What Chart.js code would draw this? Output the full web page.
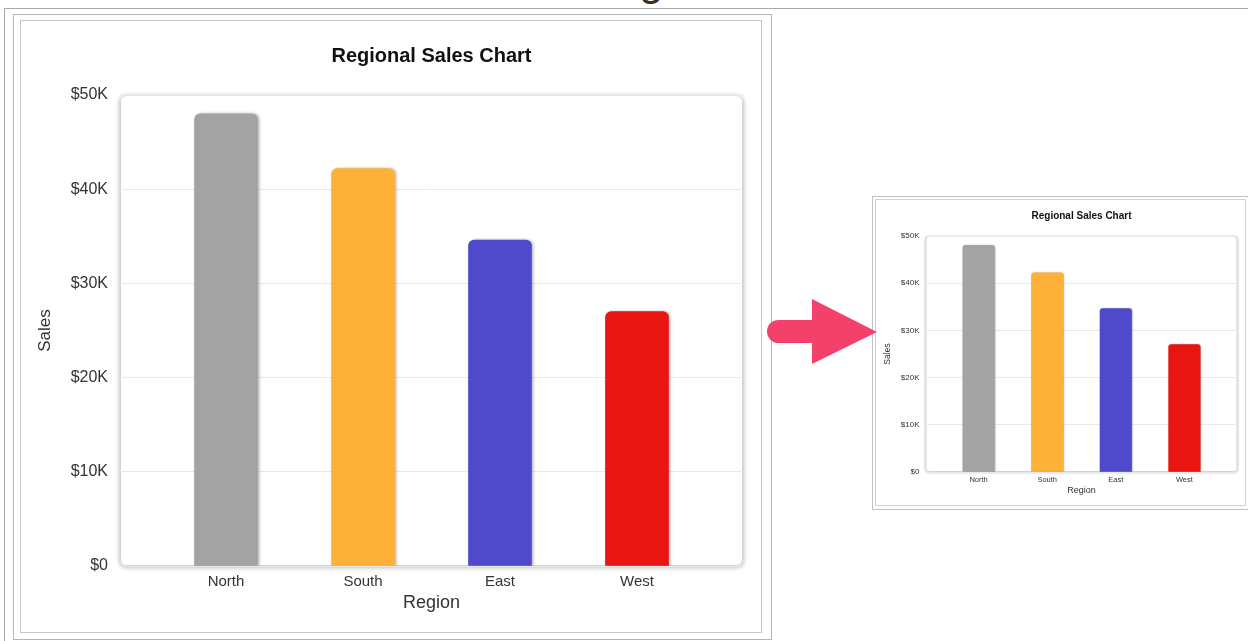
<!DOCTYPE html>
<html>
<head>
<meta charset="utf-8">
<title>Regional Sales Chart</title>
<script src="https://cdn.jsdelivr.net/npm/chart.js@4.4.1/dist/chart.umd.min.js"></script>
<style>
  html, body { margin: 0; padding: 0; background: #fff; }
  body { position: relative; width: 1248px; height: 641px; overflow: hidden;
         font-family: "Liberation Sans", Arial, sans-serif; }
  .abs { position: absolute; box-sizing: border-box; }
  #pageTop  { left: 4px; top: 8px; width: 1244px; height: 1px; background: #a9a9a9; }
  #pageLeft { left: 4px; top: 8px; width: 1px; height: 633px; background: #a9a9a9; }
  #heading  { left: 639px; top: -42px; font-size: 44px; line-height: 44px; color: #333; }
  #bigOuter { left: 13px; top: 14px; width: 759px; height: 626px; border: 1px solid #b5b5b5; }
  #bigInner { left: 20px; top: 20px; width: 742px; height: 613px; border: 1px solid #c6c6c6; }
  #bigWrap  { left: 21px; top: 21px; width: 739px; height: 611px; }
  #smallOuter { left: 872px; top: 196px; width: 380px; height: 314px; border: 1px solid #c2c2c2; }
  #smallInner { left: 875px; top: 199px; width: 371px; height: 307px; border: 1px solid #d2d2d2; }
  #smallWrap  { left: 876px; top: 199px; width: 370px; height: 306px; filter: blur(0.35px); }
  #arrow { left: 0; top: 0; width: 1248px; height: 641px; pointer-events: none; }
</style>
</head>
<body>
<div class="abs" id="pageTop"></div>
<div class="abs" id="pageLeft"></div>
<div class="abs" id="heading">g</div>

<div class="abs" id="bigOuter"></div>
<div class="abs" id="bigInner"></div>
<div class="abs" id="bigWrap"><canvas id="bigChart" width="739" height="611"></canvas></div>

<div class="abs" id="smallOuter"></div>
<div class="abs" id="smallInner"></div>
<div class="abs" id="smallWrap"><canvas id="smallChart" width="370" height="306"></canvas></div>

<svg class="abs" id="arrow" viewBox="0 0 1248 641">
  <path d="M813 320 L778.5 320 A11.5 11.5 0 0 0 778.5 343 L813 343 Z" fill="#f4416b"/>
  <polygon points="812,299 877,332 812,364" fill="#f4416b"/>
</svg>

<script>
// ---- data ----
const categories = ['North', 'South', 'East', 'West'];
const sales = [48000, 42200, 34600, 27000];
const barColors = ['#a3a3a3', '#fdb138', '#4f4acb', '#e81510'];
const yTickValues = [0, 10000, 20000, 30000, 40000, 50000];
const yTickLabels = ['$0', '$10K', '$20K', '$30K', '$40K', '$50K'];
const chartTitle = 'Regional Sales Chart';
const xAxisTitle = 'Region';
const yAxisTitle = 'Sales';

Chart.defaults.font.family = '"Liberation Sans", Arial, sans-serif';
Chart.defaults.color = '#333';

// White rounded plot panel with a soft shadow, and shadowed bars
const panelPlugin = {
  id: 'panel',
  beforeDraw(chart, args, opts) {
    const { ctx, chartArea: a } = chart;
    const s = opts.scale;
    ctx.save();
    ctx.shadowColor = 'rgba(0,0,0,0.35)';
    ctx.shadowBlur = 5 * s;
    ctx.shadowOffsetY = 1 * s;
    ctx.fillStyle = '#fff';
    ctx.beginPath();
    ctx.roundRect(a.left, a.top, a.width, a.height, 6 * s);
    ctx.fill();
    ctx.restore();
    ctx.save();
    ctx.strokeStyle = '#d2d2d2';
    ctx.lineWidth = 1;
    ctx.beginPath();
    ctx.roundRect(a.left + 0.5, a.top + 0.5, a.width - 1, a.height - 1, 6 * s);
    ctx.stroke();
    ctx.restore();
  },
  beforeDatasetsDraw(chart, args, opts) {
    const s = opts.scale;
    const ctx = chart.ctx;
    ctx.save();
    ctx.shadowColor = 'rgba(0,0,0,0.3)';
    ctx.shadowBlur = 3 * s;
    ctx.shadowOffsetX = 1.5 * s;
  },
  afterDatasetsDraw(chart) {
    chart.ctx.restore();
  }
};

function makeConfig(s) {
  return {
    type: 'bar',
    data: {
      datasets: [{
        data: categories.map((c, i) => ({ x: i, y: sales[i] })),
        backgroundColor: barColors,
        borderWidth: 0,
        borderRadius: { topLeft: 6 * s, topRight: 6 * s, bottomLeft: 0, bottomRight: 0 },
        borderSkipped: 'start',
        barThickness: 63 * s
      }]
    },
    options: {
      responsive: false,
      animation: false,
      events: [],
      layout: { padding: { left: 0, right: 17 * s, top: 0, bottom: 0 } },
      scales: {
        x: {
          type: 'linear',
          offset: false,
          min: -0.774,
          max: 3.774,
          afterBuildTicks: sc => { sc.ticks = categories.map((c, i) => ({ value: i })); },
          afterFit: sc => { sc.height = 66 * s; },
          grid: { display: false, drawTicks: false, offset: false },
          border: { display: false },
          ticks: {
            callback: v => categories[v],
            font: { size: 15 * s },
            color: '#333',
            padding: 7 * s,
            maxRotation: 0,
            autoSkip: false
          },
          title: {
            display: true,
            text: xAxisTitle,
            font: { size: 18 * s },
            color: '#333',
            padding: { top: 0, bottom: 18.5 * s }
          }
        },
        y: {
          min: 0,
          max: 50000,
          afterBuildTicks: sc => { sc.ticks = yTickValues.map(v => ({ value: v })); },
          afterFit: sc => { sc.width = 99 * s; },
          grid: { color: '#e8e8e8', lineWidth: 1, drawTicks: false },
          border: { display: false },
          ticks: {
            callback: v => yTickLabels[yTickValues.indexOf(v)],
            font: { size: 16 * s },
            color: '#333',
            padding: 12 * s
          },
          title: {
            display: true,
            text: yAxisTitle,
            font: { size: 17 * s },
            color: '#333',
            padding: { top: 13.8 * s, bottom: 0 }
          }
        }
      },
      plugins: {
        legend: { display: false },
        tooltip: { enabled: false },
        title: {
          display: true,
          text: chartTitle,
          fullSize: false,
          color: '#111',
          font: { size: 20 * s, weight: 'bold' },
          padding: { top: 23 * s, bottom: 27 * s }
        },
        panel: { scale: s }
      }
    },
    plugins: [panelPlugin]
  };
}

new Chart(document.getElementById('bigChart'), makeConfig(1));
new Chart(document.getElementById('smallChart'), makeConfig(0.5));
</script>
</body>
</html>
